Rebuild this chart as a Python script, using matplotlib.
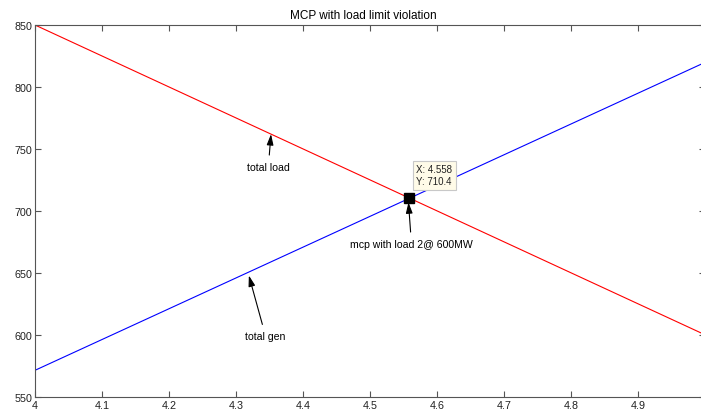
import numpy as np
import matplotlib.pyplot as plt

plt.rcParams['font.family'] = ['Liberation Sans', 'DejaVu Sans']

# price axis and the two curves (end points)
price = [4.0, 5.0]
total_load = [850.0, 600.0]
total_gen = [571.5, 820.0]

mcp_x = 4.558
mcp_y = 710.4

fig = plt.figure(figsize=(7.01, 4.10), dpi=100)
ax = fig.add_axes([0.0499, 0.0293, 0.9565, 0.9073])

ax.plot(price, total_load, color='#ff0000', lw=0.8)
ax.plot(price, total_gen, color='#0000ff', lw=0.8)

# data tip
ax.plot([mcp_x], [mcp_y], 's', color='black', ms=6.5)
ax.text(4.569, 720, 'X: 4.558\nY: 710.4', fontsize=7, va='bottom', ha='left',
        linespacing=1.25, color='#222222',
        bbox=dict(boxstyle='square,pad=0.35', fc='#fffbe8', ec='#c8c8c8', lw=0.8))

arr = dict(arrowstyle='-|>,head_length=0.65,head_width=0.2', color='black', lw=0.8,
           mutation_scale=10, shrinkA=3, shrinkB=0)
ax.annotate('total load', xy=(4.352, 762), xytext=(4.348, 735.5),
            fontsize=7.6, ha='center', va='center', arrowprops=arr)
ax.annotate('total gen', xy=(4.319, 648), xytext=(4.344, 599),
            fontsize=7.6, ha='center', va='center', arrowprops=arr)
ax.annotate('mcp with load 2@ 600MW', xy=(4.557, 707), xytext=(4.5615, 673.4),
            fontsize=7.6, ha='center', va='center', arrowprops=arr)

ax.set_xlim(4.0, 5.0)
ax.set_ylim(550, 850)
ax.set_xticks(np.arange(4.0, 4.95, 0.1))
ax.set_xticklabels(['4', '4.1', '4.2', '4.3', '4.4', '4.5', '4.6', '4.7', '4.8', '4.9'])
ax.set_yticks(np.arange(550, 851, 50))
ax.tick_params(direction='in', top=True, right=True, length=4, width=0.8,
               labelsize=7.75, colors='#555555', labelcolor='#222222', pad=2)
for s in ax.spines.values():
    s.set_color('#555555')
    s.set_linewidth(0.8)

ax.set_title('MCP with load limit violation', fontsize=8.5, pad=5, x=0.49)

fig.savefig('out.png', dpi=100)
